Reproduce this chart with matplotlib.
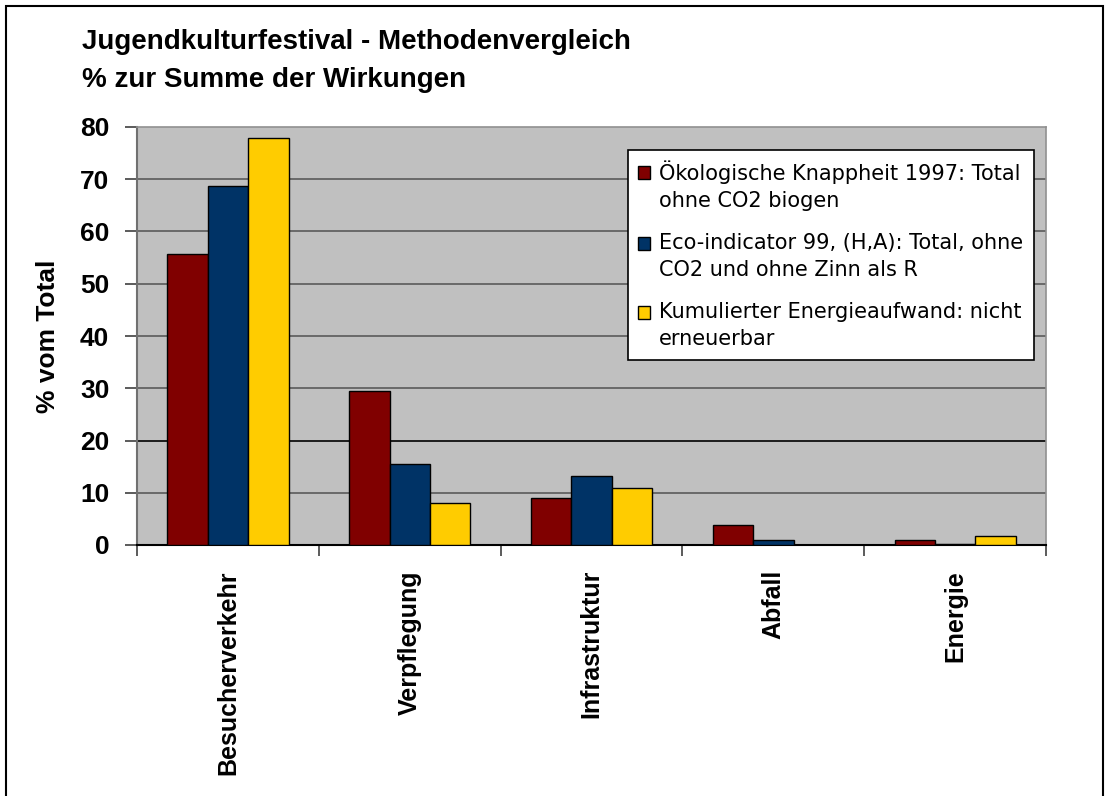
import matplotlib
matplotlib.use("Agg")
import matplotlib.pyplot as plt
import numpy as np
from matplotlib.patches import Rectangle
from matplotlib.legend_handler import HandlerPatch

categories = ["Besucherverkehr", "Verpflegung", "Infrastruktur", "Abfall", "Energie"]
series_names = [
    "Ökologische Knappheit 1997: Total\nohne CO2 biogen",
    "Eco-indicator 99, (H,A): Total, ohne\nCO2 und ohne Zinn als R",
    "Kumulierter Energieaufwand: nicht\nerneuerbar",
]
oek = [55.7, 29.5, 8.9, 3.8, 0.9]
eco = [68.8, 15.5, 13.3, 0.9, 0.25]
ked = [77.8, 8.1, 10.9, 0.0, 1.8]
colors = ["#800000", "#003366", "#FFCC00"]
yticks = [0, 10, 20, 30, 40, 50, 60, 70, 80]

fig = plt.figure(figsize=(11.1, 7.96), dpi=100)
ax = fig.add_axes([137/1110, 1 - 545/796, (1046 - 137)/1110, (545 - 127)/796])
ax.set_facecolor("#C0C0C0")

x = np.arange(len(categories))
w = 1 / 4.5
for i, (vals, c, name) in enumerate(zip([oek, eco, ked], colors, series_names)):
    ax.bar(x + (i - 1) * w, vals, width=w, color=c, edgecolor="black",
           linewidth=1.0, label=name, zorder=3)

ax.set_xlim(-0.5, len(categories) - 0.5)
ax.set_ylim(0, 80)
ax.set_yticks(yticks)
ax.set_yticklabels([str(t) for t in yticks], fontsize=19, fontweight="bold",
                   family="Liberation Sans")
for t in yticks[1:-1]:
    ax.axhline(t, color="black" if t == 20 else "#5a5a5a", linewidth=1.2, zorder=1)

ax.set_xticks(np.arange(-0.5, len(categories), 1.0), minor=False)
ax.set_xticklabels([])
ax.tick_params(axis="x", direction="out", length=8, color="#404040", width=1.2)
ax.tick_params(axis="y", direction="out", length=9, color="#404040", width=1.2, pad=11)
for i, cat in enumerate(categories):
    ax.text(i, -4.8, cat, rotation=90, ha="center", va="top", fontsize=18,
            fontweight="bold", family="Liberation Sans")

ax.spines["left"].set_color("#707070")
ax.spines["left"].set_linewidth(1.5)
ax.spines["bottom"].set_color("black")
ax.spines["bottom"].set_linewidth(1.5)
for s in ["top", "right"]:
    ax.spines[s].set_color("#909090")
    ax.spines[s].set_linewidth(1.2)

ax.set_ylabel("% vom Total", fontsize=19, fontweight="bold", family="Liberation Sans")
ax.yaxis.set_label_coords((48 - 137)/909, 0.5)
ax.yaxis.label.set_va("center")

LINESP = 1.45
FS = 15
SHIFT = 0.5 * LINESP * FS * 0.93


def top_square(legend, orig_handle, xdescent, ydescent, width, height, fontsize):
    return Rectangle((-xdescent, -ydescent + SHIFT), width, height)


handler = HandlerPatch(patch_func=top_square)
proxies = [Rectangle((0, 0), 1, 1, facecolor=c, edgecolor="black", linewidth=1.0)
           for c in colors]
leg = ax.legend(proxies, series_names, loc="upper left",
                bbox_to_anchor=((628 - 137)/909, (545 - 150)/418),
                fontsize=FS, frameon=True, fancybox=False, edgecolor="black",
                facecolor="white", framealpha=1, handlelength=0.55, handleheight=0.55,
                handletextpad=0.45, labelspacing=1.05, borderpad=0.5, borderaxespad=0,
                handler_map={h: handler for h in proxies})
for t in leg.get_texts():
    t.set_linespacing(LINESP)
leg.get_frame().set_linewidth(1.2)
leg.set_zorder(5)

fig.text(82/1110, 1 - 42/796, "Jugendkulturfestival - Methodenvergleich",
         fontsize=20, fontweight="bold", family="Liberation Sans", va="center", ha="left")
fig.text(82/1110, 1 - 80/796, "% zur Summe der Wirkungen",
         fontsize=20, fontweight="bold", family="Liberation Sans", va="center", ha="left")

fig.patches.append(Rectangle((6/1110, -0.05), (1103 - 6)/1110, 1.05 - 6/796,
                             transform=fig.transFigure, fill=False,
                             edgecolor="black", linewidth=1.5))

fig.savefig("out.png", dpi=100)
